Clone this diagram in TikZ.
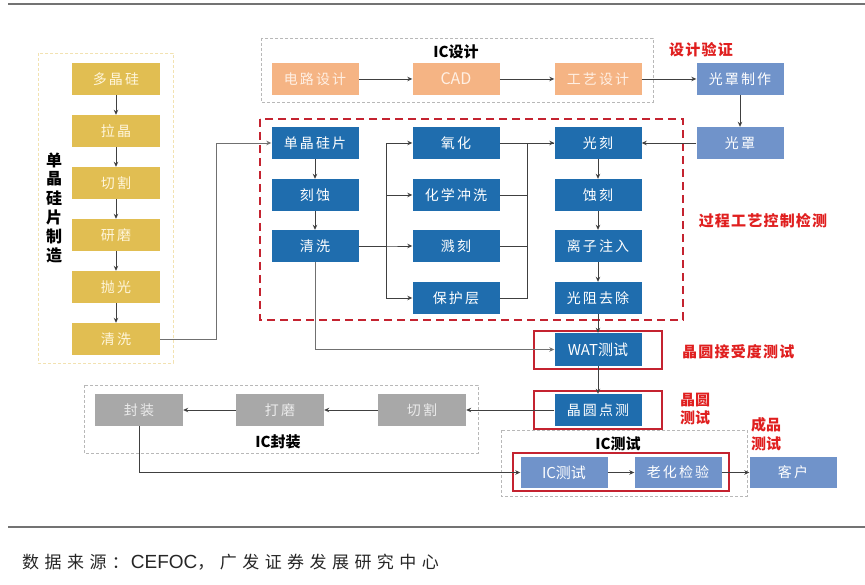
\documentclass[tikz,border=0pt]{standalone}
\usepackage{fontspec}
\setmainfont{Liberation Sans}
\newfontfamily\cjk{Noto Sans CJK SC}
\newfontfamily\cjksp{Noto Sans CJK SC}[LetterSpace=15]
\newfontfamily\cjkft{Noto Sans CJK SC}[LetterSpace=32]
\newfontfamily\cjkrd{Noto Sans CJK SC}[LetterSpace=8]
\usetikzlibrary{arrows.meta}
\definecolor{ygold}{HTML}{E1BE52}
\definecolor{ylite}{HTML}{FFF6DC}
\definecolor{orng}{HTML}{F5B484}
\definecolor{olite}{HTML}{FFF0E4}
\definecolor{dblue}{HTML}{1F6DAE}
\definecolor{lblue}{HTML}{7093CA}
\definecolor{gbox}{HTML}{A8A8A8}
\definecolor{rbox}{HTML}{C42330}
\definecolor{rtxt}{HTML}{E01F1F}
\definecolor{ln}{HTML}{404040}
\tikzset{
  base/.style={minimum width=87pt,minimum height=32pt,inner sep=0pt,font=\cjksp\fontsize{14}{16}\selectfont},
  ynode/.style={base,fill=ygold,text=ylite,minimum width=88pt},
  onode/.style={base,fill=orng,text=olite},
  bnode/.style={base,fill=dblue,text=white},
  lnode/.style={base,fill=lblue,text=white},
  gnode/.style={base,fill=gbox,text=white!92!black,minimum width=88pt},
  arr/.style={draw=ln,line width=0.8pt,-{Stealth[length=5pt,width=4.5pt]}},
  conn/.style={draw=ln,line width=0.8pt},
  gconn/.style={draw=ln!75,line width=0.9pt},
  ydash/.style={draw=ygold!45,line width=0.8pt,dash pattern=on 3pt off 2pt},
  gdash/.style={draw=black!28,line width=0.8pt,dash pattern=on 3pt off 2pt},
  rdash/.style={draw=rbox,line width=1.5pt,dash pattern=on 8pt off 5pt},
  rsolid/.style={draw=rbox,line width=1.4pt},
  rlabel/.style={text=rtxt,font=\cjkrd\bfseries\fontsize{15}{18}\selectfont,inner sep=0pt,align=left},
  tlabel/.style={text=black,font=\cjk\bfseries\fontsize{15}{18}\selectfont,inner sep=0pt}
}
\begin{document}
\begin{tikzpicture}[x=1pt,y=-1pt]
\useasboundingbox (0,0) rectangle (865,585);
\fill[white] (0,0) rectangle (865,585);
% rules
\draw[black!55,line width=2pt] (8,4) -- (865,4);
\draw[black!55,line width=1.5pt] (8,527) -- (865,527);
% group boxes
\draw[ydash] (38,53) rectangle (173,363);
\draw[gdash] (261,38) rectangle (653,102);
\draw[rdash] (260,119) rectangle (683,320);
\draw[gdash] (84,385) rectangle (478,453);
\draw[gdash] (501,430) rectangle (747,496);
% yellow column
\node[ynode] (y1) at (116,79) {多晶硅};
\node[ynode] (y2) at (116,131) {拉晶};
\node[ynode] (y3) at (116,183) {切割};
\node[ynode] (y4) at (116,235) {研磨};
\node[ynode] (y5) at (116,287) {抛光};
\node[ynode] (y6) at (116,339) {清洗};
\foreach \c [count=\i from 0] in {单,晶,硅,片,制,造}
  \node[tlabel,font=\cjk\bfseries\fontsize{16}{18}\selectfont] (v\i) at (54,160+19*\i) {\c};
% IC design
\node[tlabel] (icd) at (456,52) {IC设计};
\node[onode] (o1) at (315,79) {电路设计};
\node[onode,font=\cjk\fontsize{16}{18}\selectfont] (o2) at (456,79) {CAD};
\node[onode] (o3) at (598,79) {工艺设计};
\node[lnode] (m1) at (740,79) {光罩制作};
\node[lnode] (m2) at (740,143) {光罩};
\node[rlabel] (lv) at (701,50) {设计验证};
% process
\node[bnode] (b1) at (315,143) {单晶硅片};
\node[bnode] (b2) at (315,195) {刻蚀};
\node[bnode] (b3) at (315,246) {清洗};
\node[bnode] (c1) at (456,143) {氧化};
\node[bnode] (c2) at (456,195) {化学冲洗};
\node[bnode] (c3) at (456,246) {溅刻};
\node[bnode] (c4) at (456,298) {保护层};
\node[bnode] (d1) at (598,143) {光刻};
\node[bnode] (d2) at (598,195) {蚀刻};
\node[bnode] (d3) at (598,246) {离子注入};
\node[bnode] (d4) at (598,298) {光阻去除};
\node[rlabel] (lp) at (763,221) {过程工艺控制检测};
% tests
\node[bnode,minimum height=33pt,font=\cjk\fontsize{15}{17}\selectfont] (wat) at (598,349.5) {WAT测试};
\draw[rsolid] (534,331) rectangle (662,369);
\node[rlabel,anchor=west] (lw) at (682,352) {晶圆接受度测试};
\node[bnode] (wp) at (598,410) {晶圆点测};
\draw[rsolid] (534,391) rectangle (662,429);
\node[rlabel,anchor=west,font=\cjk\bfseries\fontsize{15}{18.5}\selectfont] (lwp) at (680,409) {晶圆\\测试};
% packaging
\node[gnode] (p1) at (139,410) {封装};
\node[gnode] (p2) at (280,410) {打磨};
\node[gnode] (p3) at (422,410) {切割};
\node[tlabel] (icp) at (278,442) {IC封装};
% IC test
\node[tlabel] (ict) at (618,443.5) {IC测试};
\node[lnode,minimum height=31pt,font=\cjk\fontsize{15}{17}\selectfont] (t1) at (564,472.5) {IC测试};
\node[lnode,minimum height=31pt] (t2) at (678,472.5) {老化检验};
\node[lnode,minimum height=31pt] (t3) at (793,472.5) {客户};
\draw[rsolid] (513,453) rectangle (729,491);
\node[rlabel,anchor=west,font=\cjk\bfseries\fontsize{15}{18.5}\selectfont] (lf) at (751,434) {成品\\测试};
% connectors
\foreach \a/\b in {y1/y2,y2/y3,y3/y4,y4/y5,y5/y6,b1/b2,b2/b3,d1/d2,d2/d3,d3/d4,d4/wat,wat/wp,m1/m2}
  \draw[arr] (\a) -- (\b);
\draw[gconn,-{Stealth[length=5pt,width=4.5pt]}] (y6.east) -- ++(56,0) |- (b1.west);
\foreach \t in {c1,c2,c3,c4}
  \draw[arr] (b3.east) -- ++(28,0) |- (\t.west);
\draw[arr] (c1.east) -- (d1.west);
\foreach \t in {c2,c3,c4}
  \draw[conn] (\t.east) -- ++(28,0) |- (d1.west);
\draw[arr] (o1) -- (o2);
\draw[arr] (o2) -- (o3);
\draw[arr] (o3) -- (m1);
\draw[arr] (m2) -- (d1);
\draw[gconn,-{Stealth[length=5pt,width=4.5pt]}] (b3.south) |- (wat.west);
\draw[arr] (wp) -- (p3);
\draw[arr] (p3) -- (p2);
\draw[arr] (p2) -- (p1);
\draw[arr] (p1.south) |- (t1.west);
\draw[arr] (t1) -- (t2);
\draw[arr] (t2) -- (t3);
% footer
\node[anchor=west,inner sep=0pt,font=\cjkft\fontsize{17}{20}\selectfont,text=black!85] (src) at (22,562) {数据来源：\hspace{2pt}{\fontsize{19}{20}\selectfont\normalfont CEFOC}，广发证券发展研究中心};
\end{tikzpicture}
\end{document}
